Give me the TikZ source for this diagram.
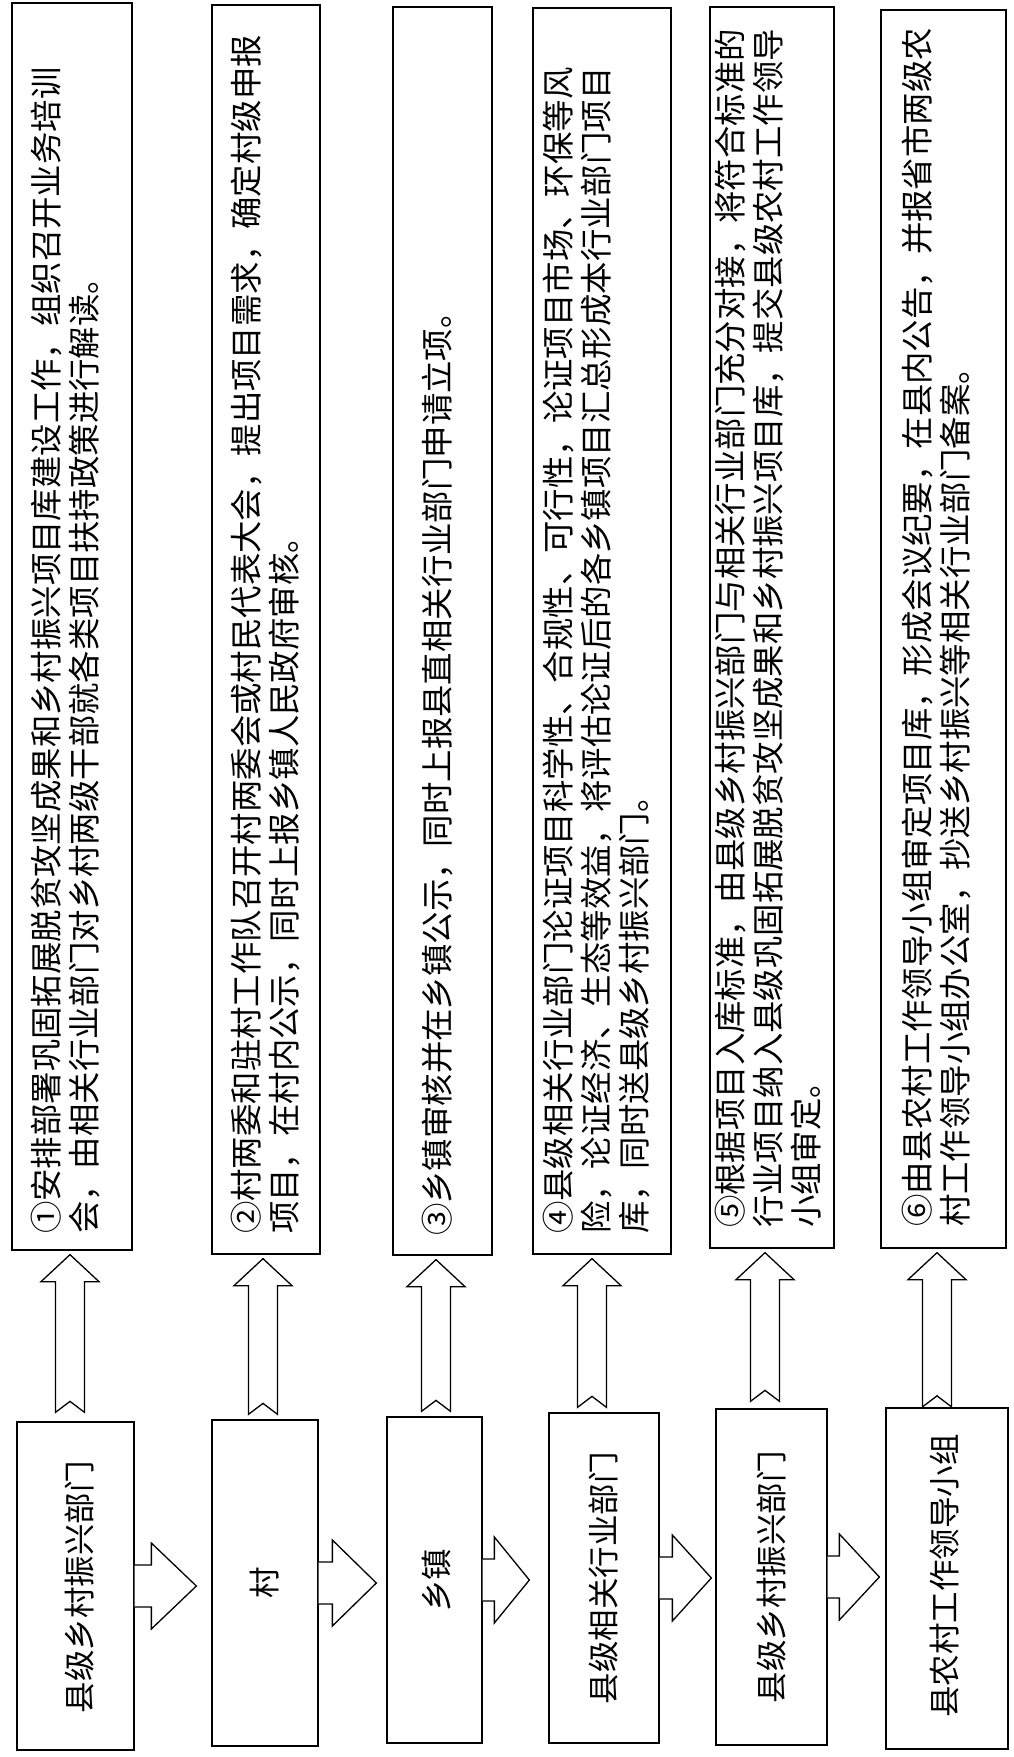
\documentclass[tikz,border=0pt]{standalone}
\usepackage{fontspec}
\setmainfont{Noto Sans CJK SC}
\usetikzlibrary{calc}
\tikzset{
  box/.style={draw=black, line width=1.3pt, inner sep=0pt},
  blk/.style={draw=black, line width=1.3pt, fill=white, line join=miter},
  toptext/.style={rotate=90, anchor=west, align=left, inner sep=0pt, font=\fontsize{32.4}{38}\selectfont},
  bottext/.style={rotate=90, anchor=center, inner sep=0pt, font=\fontsize{31.5}{38}\selectfont},
}
% up block arrow: #1 centre x, #2 upper box, #3 lower box, #4 gap above lower box
\newcommand\uparr[4]{%
  \draw[blk] let \p1=(#2.south), \p2=(#3.north) in
   (#1pt,\y1-4pt) -- (#1pt+29pt,\y1-31pt) -- (#1pt+14.5pt,\y1-31pt)
   -- (#1pt+14.5pt,\y2+#4pt) -- (#1pt,\y2+#4pt+11pt) -- (#1pt-14.5pt,\y2+#4pt)
   -- (#1pt-14.5pt,\y1-31pt) -- (#1pt-29pt,\y1-31pt) -- cycle;}
% right block arrow: #1 from box, #2 to box, #3 gap before target, #4 head length
\newcommand\rarr[4]{%
  \draw[blk] let \p1=(#1.east), \p2=(#2.west) in
   (\x1,\y1+21pt) -- (\x2-#3pt-#4pt,\y1+21pt) -- (\x2-#3pt-#4pt,\y1+43pt)
   -- (\x2-#3pt,\y1) -- (\x2-#3pt-#4pt,\y1-43pt) -- (\x2-#3pt-#4pt,\y1-21pt)
   -- (\x1,\y1-21pt);}
\begin{document}
\begin{tikzpicture}[x=1pt,y=-1pt]
\fill[white] (0,0) rectangle (1013,1757);
\useasboundingbox (0,0) rectangle (1013,1757);

% upper boxes
\node[box, minimum width=120pt, minimum height=1247pt] (t1) at (72,626.5) {};
\node[box, minimum width=108pt, minimum height=1249pt] (t2) at (266,629.5) {};
\node[box, minimum width=99pt,  minimum height=1248pt] (t3) at (442.5,631) {};
\node[box, minimum width=138pt, minimum height=1246pt] (t4) at (602,631) {};
\node[box, minimum width=124pt, minimum height=1241pt] (t5) at (772,627.5) {};
\node[box, minimum width=125pt, minimum height=1238pt] (t6) at (943.5,629) {};

% lower boxes
\node[box, minimum width=117pt, minimum height=328pt] (b1) at (75.5,1586) {};
\node[box, minimum width=106pt, minimum height=326pt] (b2) at (265,1583) {};
\node[box, minimum width=95pt,  minimum height=326pt] (b3) at (434.5,1580) {};
\node[box, minimum width=110pt, minimum height=330pt] (b4) at (604,1578) {};
\node[box, minimum width=111pt, minimum height=336pt] (b5) at (771.5,1577) {};
\node[box, minimum width=122pt, minimum height=341pt] (b6) at (947,1578.5) {};

% texts of upper boxes
\node[toptext] (tt1) at (66,1234) {①安排部署巩固拓展脱贫攻坚成果和乡村振兴项目库建设工作，组织召开业务培训\\会，由相关行业部门对乡村两级干部就各类项目扶持政策进行解读。};
\node[toptext] (tt2) at (266,1234) {②村两委和驻村工作队召开村两委会或村民代表大会，提出项目需求，确定村级申报\\项目，在村内公示，同时上报乡镇人民政府审核。};
\node[toptext] (tt3) at (438,1236) {③乡镇审核并在乡镇公示，同时上报县直相关行业部门申请立项。};
\node[toptext] (tt4) at (596,1234) {④县级相关行业部门论证项目科学性、合规性、可行性，论证项目市场、环保等风\\险，论证经济、生态等效益，将评估论证后的各乡镇项目汇总形成本行业部门项目\\库，同时送县级乡村振兴部门。};
\node[toptext] (tt5) at (768,1228) {⑤根据项目入库标准，由县级乡村振兴部门与相关行业部门充分对接，将符合标准的\\行业项目纳入县级巩固拓展脱贫攻坚成果和乡村振兴项目库，提交县级农村工作领导\\小组审定。};
\node[toptext] (tt6) at (936,1227) {⑥由县农村工作领导小组审定项目库，形成会议纪要，在县内公告，并报省市两级农\\村工作领导小组办公室，抄送乡村振兴等相关行业部门备案。};

% texts of lower boxes
\node[bottext] (bt1) at (79,1587) {县级乡村振兴部门};
\node[bottext] (bt2) at (265,1583) {村};
\node[bottext] (bt3) at (437,1580) {乡镇};
\node[bottext] (bt4) at (604,1578) {县级相关行业部门};
\node[bottext] (bt5) at (771.5,1577) {县级乡村振兴部门};
\node[bottext] (bt6) at (945,1576) {县农村工作领导小组};

% up arrows
\uparr{70}{t1}{b1}{9}
\uparr{263}{t2}{b2}{5}
\uparr{436}{t3}{b3}{5}
\uparr{592}{t4}{b4}{5}
\uparr{765}{t5}{b5}{7}
\uparr{937}{t6}{b6}{0.5}

% right arrows
\rarr{b1}{b2}{15}{45}
\rarr{b2}{b3}{10}{44}
\rarr{b3}{b4}{19}{35}
\rarr{b4}{b5}{4}{39}
\rarr{b5}{b6}{6}{40}
\end{tikzpicture}
\end{document}
